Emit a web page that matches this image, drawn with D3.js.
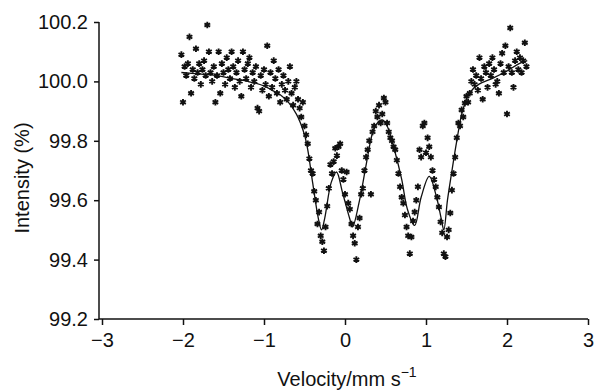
<!DOCTYPE html>
<html>
<head>
<meta charset="utf-8">
<script src="https://cdn.jsdelivr.net/npm/d3@7"></script>
<style>
  body { margin: 0; background: #fff; }
  text { font-family: "Liberation Sans", Arial, sans-serif; fill: #111; }
</style>
</head>
<body>
<svg id="chart" width="596" height="391"></svg>
<script>
// measured velocities (mm/s)
const velocity = [
  -2.02,-2.00,-1.98,-1.96,-1.94,-1.92,-1.90,-1.88,-1.86,-1.84,
  -1.82,-1.80,-1.78,-1.76,-1.74,-1.72,-1.70,-1.68,-1.66,-1.64,
  -1.62,-1.60,-1.58,-1.56,-1.54,-1.52,-1.50,-1.48,-1.46,-1.44,
  -1.42,-1.40,-1.38,-1.36,-1.34,-1.32,-1.30,-1.28,-1.26,-1.24,
  -1.22,-1.20,-1.18,-1.16,-1.14,-1.12,-1.10,-1.08,-1.06,-1.04,
  -1.02,-1.00,-0.98,-0.96,-0.94,-0.92,-0.90,-0.88,-0.86,-0.84,
  -0.82,-0.80,-0.78,-0.76,-0.74,-0.72,-0.70,-0.68,-0.66,-0.64,
  -0.62,-0.60,-0.58,-0.56,-0.54,-0.52,-0.50,-0.48,-0.46,-0.44,
  -0.42,-0.40,-0.38,-0.36,-0.34,-0.32,-0.30,-0.28,-0.26,-0.24,
  -0.22,-0.20,-0.18,-0.16,-0.14,-0.12,-0.10,-0.08,-0.06,-0.04,
  -0.02,0.00,0.02,0.04,0.06,0.08,0.10,0.12,0.14,0.16,
  0.18,0.20,0.22,0.24,0.26,0.28,0.30,0.32,0.34,0.36,
  0.38,0.40,0.42,0.44,0.46,0.48,0.50,0.52,0.54,0.56,
  0.58,0.60,0.62,0.64,0.66,0.68,0.70,0.72,0.74,0.76,
  0.78,0.80,0.82,0.84,0.86,0.88,0.90,0.92,0.94,0.96,
  0.98,1.00,1.02,1.04,1.06,1.08,1.10,1.12,1.14,1.16,
  1.18,1.20,1.22,1.24,1.26,1.28,1.30,1.32,1.34,1.36,
  1.38,1.40,1.42,1.44,1.46,1.48,1.50,1.52,1.54,1.56,
  1.58,1.60,1.62,1.64,1.66,1.68,1.70,1.72,1.74,1.76,
  1.78,1.80,1.82,1.84,1.86,1.88,1.90,1.92,1.94,1.96,
  1.98,2.00,2.02,2.04,2.06,2.08,2.10,2.12,2.14,2.16,
  2.18,2.20,2.22,2.24
];

// measured intensity (%), one per velocity
const intensity = [
  100.09,99.93,100.05,100.02,100.06,100.15,99.96,100.04,100.01,100.11,
  100.03,100.06,99.99,100.04,100.07,100.02,100.19,100.10,100.03,100.00,
  100.05,99.93,100.02,100.10,99.96,100.06,100.03,99.99,100.08,100.04,
  100.01,100.10,100.05,99.98,100.03,100.07,100.00,99.95,100.10,100.04,
  100.01,100.06,100.08,99.98,100.03,100.00,100.05,99.91,99.90,100.02,
  99.97,100.04,99.99,100.12,99.95,100.03,99.98,100.07,100.01,99.96,
  100.04,99.93,99.99,100.02,99.97,99.94,100.00,100.05,99.96,99.92,
  99.98,100.00,99.94,99.91,99.88,99.93,99.85,99.82,99.79,99.74,
  99.70,99.69,99.63,99.60,99.52,99.56,99.48,99.46,99.43,99.51,
  99.58,99.64,99.72,99.69,99.73,99.775,99.75,99.78,99.79,99.70,
  99.67,99.62,99.695,99.59,99.57,99.52,99.48,99.455,99.40,99.51,
  99.54,99.62,99.64,99.70,99.745,99.77,99.80,99.62,99.83,99.85,
  99.90,99.88,99.92,99.86,99.89,99.944,99.93,99.86,99.83,99.81,
  99.80,99.78,99.77,99.735,99.69,99.645,99.61,99.59,99.55,99.51,
  99.48,99.42,99.476,99.53,99.56,99.60,99.645,99.77,99.745,99.85,
  99.86,99.76,99.81,99.78,99.745,99.70,99.67,99.645,99.61,99.577,
  99.527,99.49,99.42,99.41,99.476,99.50,99.557,99.634,99.69,99.745,
  99.81,99.86,99.85,99.904,99.88,99.927,99.95,99.93,99.96,100.00,
  100.04,99.99,100.02,99.97,100.08,100.01,99.94,100.05,100.03,99.98,
  100.06,100.02,100.08,100.04,99.99,100.00,99.96,100.06,100.095,100.03,
  100.12,99.89,100.05,100.18,100.03,99.98,100.07,100.10,100.04,100.08,
  100.03,100.07,100.13,100.05
];

// fitted curve
const fitVelocity = [
  -2.02,-1.8,-1.6,-1.4,-1.2,-1.0,-0.9,-0.8,-0.7,-0.6,-0.55,-0.5,-0.46,-0.4,-0.33,-0.29,
  -0.25,-0.17,-0.105,-0.03,0.056,0.093,0.18,0.265,0.34,0.40,0.46,0.52,0.61,0.70,0.77,0.86,
  0.94,1.04,1.13,1.19,1.22,1.265,1.315,1.38,1.45,1.535,1.65,1.82,2.0,2.15,2.25
];
const fitIntensity = [
  100.03,100.025,100.02,100.01,100.0,99.985,99.97,99.955,99.93,99.89,99.86,99.82,99.77,99.66,99.54,99.50,
  99.54,99.66,99.695,99.625,99.54,99.51,99.60,99.725,99.826,99.86,99.87,99.85,99.77,99.67,99.57,99.515,
  99.61,99.68,99.61,99.535,99.50,99.60,99.69,99.80,99.90,99.96,99.99,100.01,100.035,100.06,100.07
];

const xTicks = [-3, -2, -1, 0, 1, 2, 3];
const yTicks = [99.2, 99.4, 99.6, 99.8, 100.0, 100.2];

const svg = d3.select("#chart");

const x = d3.scaleLinear().domain([-3, 3]).range([102, 588]);
const y = d3.scaleLinear().domain([99.2, 100.2]).range([319, 22]);
const axisX0 = 99; // where the y axis sits

// axes
const gx = svg.append("g")
  .attr("transform", `translate(0,${y(99.2)})`)
  .call(d3.axisBottom(x).tickValues(xTicks).tickSize(6).tickSizeOuter(0)
    .tickFormat(d3.format("d")));
gx.select(".domain").remove();
gx.append("line")
  .attr("x1", axisX0).attr("x2", x(3))
  .attr("stroke", "#111").attr("stroke-width", 1.5);
gx.selectAll(".tick line").attr("stroke", "#111").attr("stroke-width", 1.5);
gx.selectAll(".tick text")
  .attr("y", 14)
  .style("font-size", "20px")
  .attr("fill", "#111");

const gy = svg.append("g")
  .attr("transform", `translate(${axisX0},0)`)
  .call(d3.axisLeft(y).tickValues(yTicks).tickSize(5).tickSizeOuter(0)
    .tickFormat(d3.format(".1f")));
gy.select(".domain").remove();
gy.append("line")
  .attr("y1", y(100.2)).attr("y2", y(99.2))
  .attr("stroke", "#111").attr("stroke-width", 1.5);
gy.selectAll(".tick line").attr("stroke", "#111").attr("stroke-width", 1.5);
gy.selectAll(".tick text")
  .attr("x", -11)
  .style("font-size", "20px")
  .attr("fill", "#111");

// axis titles
const xt = svg.append("text")
  .attr("x", 347).attr("y", 386)
  .attr("text-anchor", "middle")
  .style("font-size", "20px");
xt.append("tspan").text("Velocity/mm s");
xt.append("tspan").attr("dy", -9).style("font-size", "14px").text("\u22121");

svg.append("text")
  .attr("transform", "translate(29,178) rotate(-90)")
  .attr("text-anchor", "middle")
  .style("font-size", "20px")
  .text("Intensity (%)");

// fitted line
const line = d3.line()
  .x((d, i) => x(fitVelocity[i]))
  .y((d, i) => y(fitIntensity[i]))
  .curve(d3.curveCatmullRom.alpha(0.5));

svg.append("path")
  .datum(fitVelocity)
  .attr("d", line)
  .attr("fill", "none")
  .attr("stroke", "#111")
  .attr("stroke-width", 1.3);

// data points as small asterisks
const star = d3.symbol().type(d3.symbolAsterisk).size(30);
svg.append("g")
  .selectAll("path")
  .data(velocity)
  .join("path")
  .attr("transform", (d, i) => `translate(${x(d)},${y(intensity[i])})`)
  .attr("d", star)
  .attr("fill", "none")
  .attr("stroke", "#111")
  .attr("stroke-width", 1.9);
</script>
</body>
</html>
